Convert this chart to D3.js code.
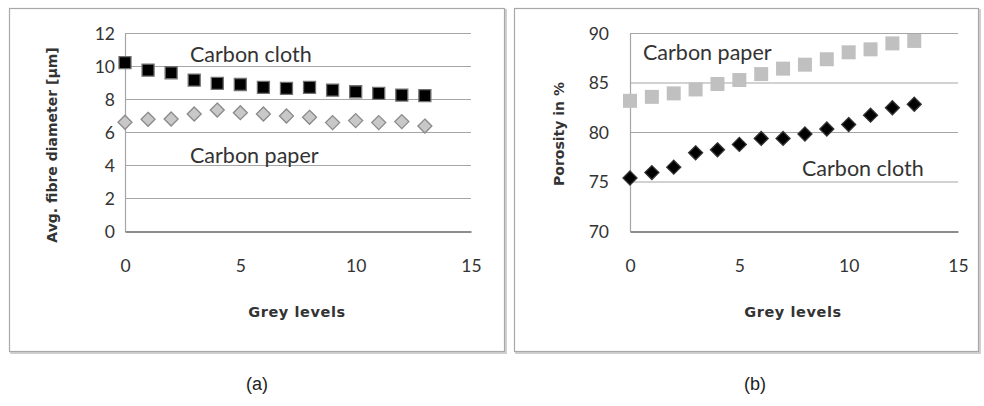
<!DOCTYPE html>
<html>
<head>
<meta charset="utf-8">
<script src="https://cdn.jsdelivr.net/npm/d3@7"></script>
<style>
  body { margin: 0; background: #fff; }
  svg text { font-family: Lato, "Open Sans", sans-serif; }
  .tick text { font-size: 17.5px; fill: #333; }
  .title { font-family: "DejaVu Sans", sans-serif !important; font-size: 14px; font-weight: bold; fill: #333; }
  .xtitle { font-size: 14.5px; letter-spacing: 0.6px; }
  .note { font-size: 21.5px; fill: #333; }
  .caption { font-family: "Liberation Sans Narrow", "Liberation Sans", sans-serif !important; font-size: 18px; fill: #222; }
</style>
</head>
<body>
<svg id="chart" width="984" height="406"></svg>
<script>
// grey levels 0..13
var greyLevels = [0, 1, 2, 3, 4, 5, 6, 7, 8, 9, 10, 11, 12, 13];

// (a) average fibre diameter [um]
var clothDiameter = [10.23, 9.78, 9.62, 9.18, 8.98, 8.91, 8.73, 8.67, 8.73, 8.57, 8.47, 8.37, 8.27, 8.23];
var paperDiameter = [6.62, 6.80, 6.82, 7.12, 7.36, 7.20, 7.12, 7.00, 6.92, 6.60, 6.72, 6.60, 6.66, 6.39];

// (b) porosity in %
var paperPorosity = [83.2, 83.6, 83.95, 84.35, 84.9, 85.3, 85.9, 86.45, 86.85, 87.4, 88.1, 88.4, 89.0, 89.25];
var clothPorosity = [75.4, 75.95, 76.5, 77.95, 78.25, 78.8, 79.4, 79.4, 79.85, 80.35, 80.8, 81.75, 82.5, 82.85];

var xTicks = [0, 5, 10, 15];
var yTicksA = [0, 2, 4, 6, 8, 10, 12];
var yTicksB = [70, 75, 80, 85, 90];

var svg = d3.select("#chart");

// panel frames
function frame(x, y, w, h) {
    svg.append("rect")
        .attr("x", x + 1.5).attr("y", y + 1.5)
        .attr("width", w).attr("height", h)
        .attr("fill", "none").attr("stroke", "#d0d0d0").attr("stroke-width", 2);
    svg.append("rect")
        .attr("x", x).attr("y", y)
        .attr("width", w).attr("height", h)
        .attr("fill", "#fff").attr("stroke", "#a8a8a8").attr("stroke-width", 1.2);
}
frame(9.5, 8.5, 495, 343);
frame(514.5, 8.5, 464, 343);

function panel(opt) {
    var g = svg.append("g");
    var x = d3.scaleLinear().domain([0, 15]).range([opt.x0, opt.x1]);
    var y = d3.scaleLinear().domain(opt.yDomain).range([231.5, 33.5]);

    // gridlines
    g.selectAll(".grid").data(opt.yTicks.slice(1)).enter().append("line")
        .attr("x1", x(0)).attr("x2", x(15))
        .attr("y1", function(d) { return y(d); })
        .attr("y2", function(d) { return y(d); })
        .attr("stroke", "#a6a6a6").attr("stroke-width", 1.2);

    // y axis
    var yAxis = d3.axisLeft(y).tickValues(opt.yTicks).tickSize(0).tickPadding(opt.yPad);
    var ya = g.append("g").attr("transform", "translate(" + x(0) + ",0)").call(yAxis);
    ya.select(".domain").attr("stroke", "#a6a6a6").attr("stroke-width", 1.2);

    // x axis
    var xAxis = d3.axisBottom(x).tickValues(xTicks).tickSize(0).tickPadding(28);
    var xa = g.append("g").attr("transform", "translate(0," + y(opt.yDomain[0]) + ")").call(xAxis);
    xa.select(".domain").attr("stroke", "#8c8c8c").attr("stroke-width", 2);
    g.selectAll(".tick text").attr("fill", "#333").attr("font-family", null).attr("font-size", null);

    // axis titles
    g.append("text").attr("class", "title xtitle")
        .attr("x", (x(0) + x(15)) / 2 - 1).attr("y", 317)
        .attr("text-anchor", "middle").text("Grey levels");
    g.append("text").attr("class", "title")
        .attr("transform", "translate(" + opt.titleX + "," + opt.titleY + ") rotate(-90)")
        .attr("text-anchor", "middle").text(opt.yTitle);

    // series
    opt.series.forEach(function(s) {
        var size = s.size;
        g.selectAll(null).data(s.values).enter().append("path")
            .attr("d", s.shape === "square"
                ? d3.symbol().type(d3.symbolSquare).size(size * size)
                : "M0," + (-size / 2) + "L" + (size / 2) + ",0L0," + (size / 2) + "L" + (-size / 2) + ",0Z")
            .attr("transform", function(d, i) { return "translate(" + x(greyLevels[i]) + "," + y(d) + ")"; })
            .attr("fill", s.fill)
            .attr("stroke", s.stroke)
            .attr("stroke-width", s.stroke === "none" ? 0 : 1.3);
    });

    // labels
    opt.notes.forEach(function(n) {
        g.append("text").attr("class", "note")
            .attr("x", n.x).attr("y", n.y).text(n.text);
    });
}

panel({
    x0: 125, x1: 471,
    yDomain: [0, 12], yTicks: yTicksA, yPad: 10,
    yTitle: "Avg. fibre diameter [\u00b5m]", titleX: 57, titleY: 145,
    series: [
        { values: clothDiameter, shape: "square", size: 12, fill: "#000", stroke: "#707070" },
        { values: paperDiameter, shape: "diamond", size: 14, fill: "#c8c8c8", stroke: "#8a8a8a" }
    ],
    notes: [
        { x: 190, y: 62, text: "Carbon cloth" },
        { x: 190, y: 163, text: "Carbon paper" }
    ]
});

panel({
    x0: 630, x1: 958,
    yDomain: [70, 90], yTicks: yTicksB, yPad: 21,
    yTitle: "Porosity in %", titleX: 564, titleY: 134,
    series: [
        { values: paperPorosity, shape: "square", size: 14, fill: "#c0c0c0", stroke: "none" },
        { values: clothPorosity, shape: "diamond", size: 14, fill: "#000", stroke: "#333" }
    ],
    notes: [
        { x: 643, y: 60, text: "Carbon paper" },
        { x: 802, y: 176, text: "Carbon cloth" }
    ]
});

svg.append("text").attr("class", "caption").attr("x", 257).attr("y", 390)
    .attr("text-anchor", "middle").text("(a)");
svg.append("text").attr("class", "caption").attr("x", 755).attr("y", 390)
    .attr("text-anchor", "middle").text("(b)");
</script>
</body>
</html>
